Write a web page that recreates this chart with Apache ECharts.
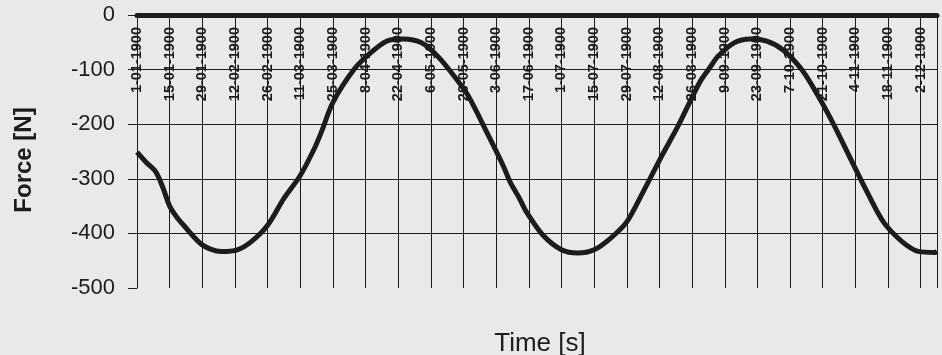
<!DOCTYPE html>
<html>
<head>
<meta charset="utf-8">
<script src="https://cdn.jsdelivr.net/npm/echarts@6/dist/echarts.min.js"></script>
<style>
  html, body { margin: 0; padding: 0; background: #e9e9e9; }
  #chart { width: 942px; height: 355px; }
</style>
</head>
<body>
<div id="chart"></div>
<script>
// time in days from the first tick (Excel style serial dates on the axis)
var time = [0, 4, 8, 11, 14, 17, 20, 28, 36, 43, 49, 56, 63, 70, 76, 79, 84, 93, 100, 107, 114, 122,
  129, 136, 142, 150, 157, 160, 164, 167, 174, 182, 189, 196, 203, 210, 217, 225, 232, 239,
  242, 246, 249, 256, 263, 270, 277, 285, 292, 299, 306, 313, 320, 328, 335, 342, 343];
var force = [-251, -270, -287, -315, -350, -370, -385, -421, -433, -430, -415, -385, -336, -294, -245, -215,
  -160, -100, -70, -48, -44, -51, -76, -112, -148, -215, -276, -306, -336, -361, -403, -430,
  -436, -430, -409, -379, -324, -258, -203, -142, -118, -94, -76, -51, -44, -48, -64, -100,
  -148, -203, -264, -324, -379, -415, -433, -435, -433];

var tickLabels = ['1-01-1900', '15-01-1900', '29-01-1900', '12-02-1900', '26-02-1900',
  '11-03-1900', '25-03-1900', '8-04-1900', '22-04-1900', '6-05-1900', '20-05-1900',
  '3-06-1900', '17-06-1900', '1-07-1900', '15-07-1900', '29-07-1900', '12-08-1900',
  '26-08-1900', '9-09-1900', '23-09-1900', '7-10-1900', '21-10-1900', '4-11-1900',
  '18-11-1900', '2-12-1900'];

var ink = '#1c1c1c';
var font = 'Liberation Sans, Arial, sans-serif';
var chart = echarts.init(document.getElementById('chart'));

var option = {
  backgroundColor: '#e9e9e9',
  animation: false,
  textStyle: { fontFamily: font, color: ink },
  grid: { left: 137, right: 5, top: 15, bottom: 67 },
  xAxis: {
    type: 'value',
    position: 'top',
    min: 0,
    max: 343,
    interval: 14,
    axisLine: { show: true, onZero: false, lineStyle: { color: ink, width: 5 } },
    axisTick: { show: false },
    axisLabel: {
      inside: true,
      rotate: -90,
      margin: 12,
      fontSize: 14.5,
      fontWeight: 'bold',
      color: ink,
      showMaxLabel: false,
      formatter: function (v) {
        var i = Math.round(v / 14);
        return (v % 14 === 0 && tickLabels[i]) ? tickLabels[i] : '';
      }
    },
    splitLine: { show: true, lineStyle: { color: ink, width: 1 } }
  },
  yAxis: {
    type: 'value',
    min: -500,
    max: 0,
    interval: 100,
    axisLine: { show: true, lineStyle: { color: ink, width: 1 } },
    axisTick: { show: true, length: 9, lineStyle: { color: ink } },
    axisLabel: { fontSize: 22, color: ink, margin: 22 },
    splitLine: {
      show: true,
      lineStyle: { color: ['rgba(0,0,0,0)', ink, ink, ink, ink, ink], width: 1 }
    }
  },
  graphic: [{
    type: 'text',
    x: 540,
    y: 344,
    style: {
      text: 'Time [s]',
      fontSize: 26,
      fontFamily: font,
      fill: ink,
      align: 'center',
      verticalAlign: 'middle'
    }
  }, {
    type: 'text',
    x: 24,
    y: 160,
    rotation: Math.PI / 2,
    style: {
      text: 'Force [N]',
      fontSize: 24,
      fontWeight: 'bold',
      fontFamily: font,
      fill: ink,
      align: 'center',
      verticalAlign: 'middle'
    }
  }],
  series: [{
    type: 'line',
    data: time.map(function (t, i) { return [t, force[i]]; }),
    smooth: 0.3,
    showSymbol: false,
    lineStyle: { color: ink, width: 5 },
    z: 5
  }]
};

chart.setOption(option);
</script>
</body>
</html>
